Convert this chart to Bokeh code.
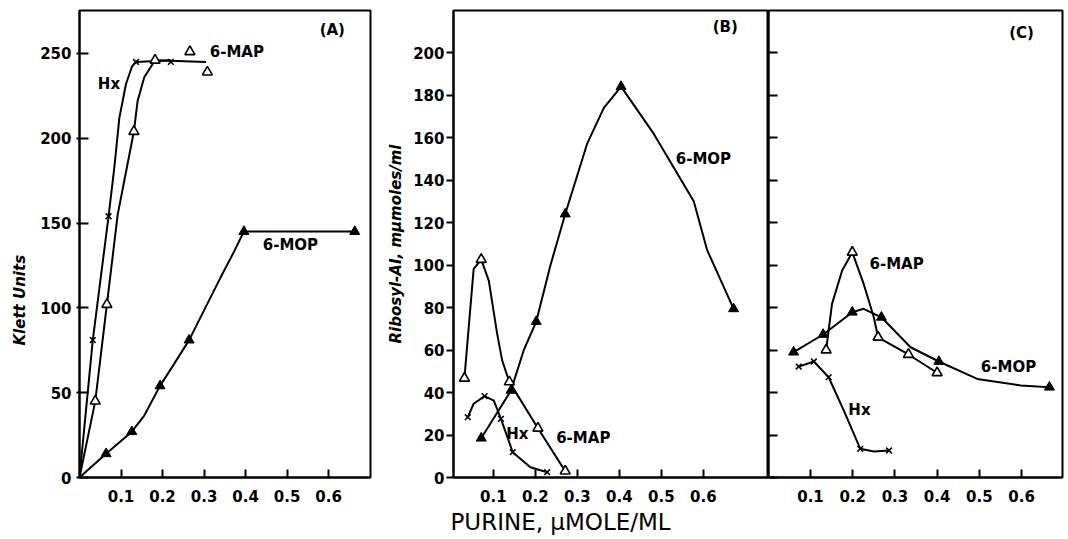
import math
from bokeh.plotting import figure
from bokeh.models import Range1d, FixedTicker, Label, Title
from bokeh.layouts import row
from bokeh.embed import file_html
from bokeh.resources import INLINE

FONT = "DejaVu Sans"

# ---------------- data: panel A (Klett units) ----------------
A_HX_X = [0.032, 0.070, 0.136, 0.220]
A_HX_Y = [81, 154, 245, 245]
A_MAP_X = [0.038, 0.066, 0.131, 0.182, 0.266, 0.308]
A_MAP_Y = [45, 102, 204, 246, 251, 239]
A_MOP_X = [0.064, 0.126, 0.194, 0.264, 0.396, 0.663]
A_MOP_Y = [14, 27, 54, 81, 145, 145]
# hand-drawn curves
A_HX_CX = [0, 0.032, 0.070, 0.084, 0.096, 0.112, 0.126, 0.136, 0.220]
A_HX_CY = [0, 81, 154, 183, 212, 232, 242, 245, 246]
A_MAP_CX = [0, 0.038, 0.066, 0.092, 0.131, 0.140, 0.156, 0.182, 0.305]
A_MAP_CY = [0, 45, 102, 155, 204, 222, 236, 246, 245]
A_MOP_CX = [0, 0.064, 0.126, 0.156, 0.194, 0.228, 0.264, 0.300, 0.340, 0.372, 0.396, 0.663]
A_MOP_CY = [0, 14, 27, 36.5, 54, 67, 81, 98.5, 118, 133, 145, 145]

# ---------------- data: panel B (Ribosyl-AI) ----------------
B_MOP_X = [0.071, 0.142, 0.202, 0.271, 0.404, 0.672]
B_MOP_Y = [18.5, 41, 73.4, 124, 184, 79.4]
B_MAP_X = [0.031, 0.071, 0.138, 0.206, 0.271]
B_MAP_Y = [46.7, 102.6, 45, 23.2, 3]
B_HX_X = [0.039, 0.079, 0.118, 0.146, 0.228]
B_HX_Y = [28.4, 38.3, 27.6, 11.9, 2.5]
B_MOP_CX = [0.071, 0.142, 0.172, 0.202, 0.236, 0.271, 0.323, 0.363, 0.404, 0.482, 0.577, 0.609, 0.672]
B_MOP_CY = [18.5, 41, 59.8, 73.4, 100, 124, 157, 174, 184, 161.7, 130, 107, 79.4]
B_MAP_CX = [0.031, 0.053, 0.071, 0.089, 0.109, 0.121, 0.138, 0.206, 0.271]
B_MAP_CY = [46.7, 98.2, 102.6, 92.7, 67.6, 55, 45, 23.2, 3]
B_HX_CX = [0.039, 0.053, 0.079, 0.101, 0.118, 0.146, 0.188, 0.228]
B_HX_CY = [28.4, 34.7, 38.3, 36.2, 27.6, 11.9, 4.8, 2.5]

# ---------------- data: panel C (Ribosyl-AI) ----------------
C_MOP_X = [0.060, 0.130, 0.199, 0.268, 0.404, 0.666]
C_MOP_Y = [59, 67.3, 77.8, 75.4, 54.6, 42.5]
C_MAP_X = [0.137, 0.199, 0.260, 0.332, 0.400]
C_MAP_Y = [60, 106, 66, 57.9, 49.3]
C_HX_X = [0.072, 0.108, 0.143, 0.218, 0.286]
C_HX_Y = [52.2, 54.6, 47.2, 13.5, 12.7]
C_MOP_CX = [0.060, 0.130, 0.199, 0.226, 0.268, 0.337, 0.404, 0.495, 0.598, 0.666]
C_MOP_CY = [59, 67.3, 77.8, 79.4, 75.4, 61.3, 54.6, 46.4, 43.3, 42.5]
C_MAP_CX = [0.137, 0.151, 0.175, 0.199, 0.226, 0.250, 0.260, 0.332, 0.400]
C_MAP_CY = [60, 81.7, 97.4, 106, 91.1, 75.4, 66, 57.9, 49.3]
C_HX_CX = [0.072, 0.108, 0.143, 0.179, 0.218, 0.250, 0.286]
C_HX_CY = [52.2, 54.6, 47.2, 31.5, 13.5, 12.2, 12.7]

X_TICKS = [0.1, 0.2, 0.3, 0.4, 0.5, 0.6]
A_Y_TICKS = [0, 50, 100, 150, 200, 250]
B_Y_TICKS = [0, 20, 40, 60, 80, 100, 120, 140, 160, 180, 200]


def make_fig(width, xr, yr, bl, br):
    p = figure(width=width, height=539, x_range=Range1d(*xr), y_range=Range1d(*yr),
               output_backend="svg", toolbar_location=None, tools="",
               min_border_left=bl, min_border_right=br, min_border_top=10, min_border_bottom=62)
    p.grid.visible = False
    p.outline_line_color = "black"
    p.outline_line_width = 2
    p.background_fill_color = "white"
    p.border_fill_color = "white"
    for ax in (p.xaxis[0], p.yaxis[0]):
        ax.axis_line_width = 2
        ax.major_tick_line_width = 2
        ax.minor_tick_line_color = None
        ax.major_label_text_font = FONT
        ax.major_label_text_font_style = "bold"
        ax.major_label_text_font_size = "15px"
        ax.major_label_text_color = "black"
    p.xaxis.ticker = FixedTicker(ticks=X_TICKS)
    p.xaxis.major_tick_in = 8
    p.xaxis.major_tick_out = 0
    p.xaxis.major_label_standoff = 12
    return p


def draw(p, cx, cy, mx, my, kind):
    p.line(cx, cy, line_color="black", line_width=2)
    if kind == "x":
        p.scatter(mx, my, marker="x", size=8, line_color="black", line_width=1.6)
    elif kind == "open":
        p.scatter(mx, my, marker="triangle", size=10, fill_color="white",
                  line_color="black", line_width=1.6)
    else:
        p.scatter(mx, my, marker="triangle", size=10, fill_color="black",
                  line_color="black", line_width=1)


def txt(p, x, y, s, size="15px"):
    p.add_layout(Label(x=x, y=y, text=s, text_align="center", text_baseline="middle",
                       text_font=FONT, text_font_style="bold", text_font_size=size,
                       text_color="black"))


# ---------------- panel A ----------------
pA = make_fig(380, (0, 0.701), (0, 275.3), 78, 10)
pA.yaxis.ticker = FixedTicker(ticks=A_Y_TICKS)
pA.yaxis.major_tick_in = 9
pA.yaxis.major_tick_out = 3
pA.yaxis.major_label_standoff = 5
draw(pA, A_HX_CX, A_HX_CY, A_HX_X, A_HX_Y, "x")
draw(pA, A_MAP_CX, A_MAP_CY, A_MAP_X, A_MAP_Y, "open")
draw(pA, A_MOP_CX, A_MOP_CY, A_MOP_X, A_MOP_Y, "filled")
txt(pA, 0.071, 232, "Hx")
txt(pA, 0.379, 250.6, "6-MAP")
txt(pA, 0.508, 136.8, "6-MOP")
txt(pA, 0.609, 263.6, "(A)")
pA.add_layout(Title(text="Klett Units", align="left", offset=132, standoff=17,
                    text_font=FONT, text_font_style="bold italic", text_font_size="15px",
                    text_color="black"), "left")

# ---------------- panel B ----------------
pB = make_fig(388, (0.005, 0.755), (0, 219.8), 73, 0)
pB.yaxis.ticker = FixedTicker(ticks=B_Y_TICKS)
pB.yaxis.major_tick_in = 0
pB.yaxis.major_tick_out = 7
pB.yaxis.major_label_standoff = 2
pB.yaxis.axis_label = "Ribosyl-AI, mμmoles/ml"
pB.yaxis.axis_label_standoff = 5
pB.yaxis.axis_label_text_font = FONT
pB.yaxis.axis_label_text_font_style = "bold italic"
pB.yaxis.axis_label_text_font_size = "15px"
pB.yaxis.axis_label_text_color = "black"
draw(pB, B_MOP_CX, B_MOP_CY, B_MOP_X, B_MOP_Y, "filled")
draw(pB, B_MAP_CX, B_MAP_CY, B_MAP_X, B_MAP_Y, "open")
draw(pB, B_HX_CX, B_HX_CY, B_HX_X, B_HX_Y, "x")
txt(pB, 0.157, 20.7, "Hx")
txt(pB, 0.314, 18.4, "6-MAP")
txt(pB, 0.600, 150, "6-MOP")
txt(pB, 0.652, 211.8, "(B)")
pB.add_layout(Title(text="PURINE, μMOLE/ML", align="left", offset=-3, standoff=5,
                    text_font=FONT, text_font_style="normal", text_font_size="23px",
                    text_color="black"), "below")

# ---------------- panel C ----------------
pC = make_fig(300, (0.0005, 0.697), (0, 219.8), 0, 6)
pC.yaxis.ticker = FixedTicker(ticks=[], minor_ticks=B_Y_TICKS)
pC.yaxis.major_tick_in = 0
pC.yaxis.major_tick_out = 0
pC.yaxis.major_label_standoff = 0
pC.yaxis.minor_tick_line_color = "black"
pC.yaxis.minor_tick_line_width = 2
pC.yaxis.minor_tick_in = 9
pC.yaxis.minor_tick_out = 0
draw(pC, C_MOP_CX, C_MOP_CY, C_MOP_X, C_MOP_Y, "filled")
draw(pC, C_MAP_CX, C_MAP_CY, C_MAP_X, C_MAP_Y, "open")
draw(pC, C_HX_CX, C_HX_CY, C_HX_X, C_HX_Y, "x")
txt(pC, 0.304, 100.7, "6-MAP")
txt(pC, 0.569, 51.8, "6-MOP")
txt(pC, 0.216, 32, "Hx")
txt(pC, 0.600, 209, "(C)")

layout = row(pA, pB, pC)
open("out.html", "w").write(file_html(layout, INLINE))
